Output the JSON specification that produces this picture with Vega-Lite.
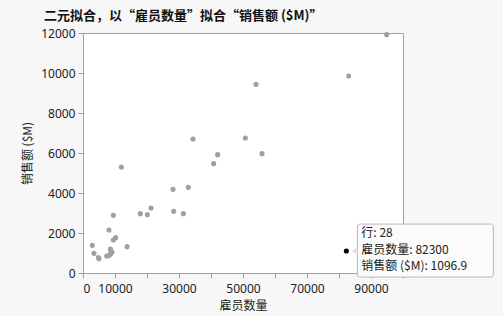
{
  "$schema": "https://vega.github.io/schema/vega-lite/v6.json",
  "width": 320,
  "height": 240,
  "autosize": "none",
  "padding": {"left": 83, "top": 33, "right": 100, "bottom": 43},
  "background": "#f7f7f7",
  "config": {
    "font": "Noto Sans CJK SC",
    "view": {"fill": "white", "stroke": "#a0a0a0", "strokeWidth": 1},
    "axis": {
      "grid": false,
      "domainColor": "#a0a0a0",
      "tickColor": "#a0a0a0",
      "tickSize": 5,
      "labelColor": "#222222",
      "labelFontSize": 12,
      "labelFont": "Noto Sans",
      "titleColor": "#222222",
      "titleFontSize": 12,
      "titleFontWeight": "normal"
    }
  },
  "title": {
    "text": "二元拟合，以“雇员数量”拟合“销售额 ($M)”",
    "anchor": "start",
    "frame": "group",
    "dx": -39,
    "offset": 4,
    "fontSize": 13,
    "fontWeight": "bold",
    "color": "#111111"
  },
  "data": {
    "values": [
      {"employees": 2917, "sales": 1383, "selected": false},
      {"employees": 3437, "sales": 983, "selected": false},
      {"employees": 4792, "sales": 767, "selected": false},
      {"employees": 5000, "sales": 717, "selected": false},
      {"employees": 8125, "sales": 2150, "selected": false},
      {"employees": 9479, "sales": 2883, "selected": false},
      {"employees": 9479, "sales": 1650, "selected": false},
      {"employees": 10208, "sales": 1767, "selected": false},
      {"employees": 8542, "sales": 1200, "selected": false},
      {"employees": 7396, "sales": 850, "selected": false},
      {"employees": 8021, "sales": 867, "selected": false},
      {"employees": 8542, "sales": 933, "selected": false},
      {"employees": 9062, "sales": 1033, "selected": false},
      {"employees": 8700, "sales": 1133, "selected": false},
      {"employees": 11979, "sales": 5300, "selected": false},
      {"employees": 13750, "sales": 1317, "selected": false},
      {"employees": 17917, "sales": 2967, "selected": false},
      {"employees": 20104, "sales": 2917, "selected": false},
      {"employees": 21250, "sales": 3250, "selected": false},
      {"employees": 28125, "sales": 4183, "selected": false},
      {"employees": 28333, "sales": 3083, "selected": false},
      {"employees": 31354, "sales": 2967, "selected": false},
      {"employees": 32917, "sales": 4283, "selected": false},
      {"employees": 34375, "sales": 6700, "selected": false},
      {"employees": 40833, "sales": 5467, "selected": false},
      {"employees": 42083, "sales": 5917, "selected": false},
      {"employees": 50729, "sales": 6750, "selected": false},
      {"employees": 82300, "sales": 1096.9, "selected": true},
      {"employees": 54062, "sales": 9433, "selected": false},
      {"employees": 55937, "sales": 5967, "selected": false},
      {"employees": 83021, "sales": 9850, "selected": false},
      {"employees": 94896, "sales": 11917, "selected": false}
    ]
  },
  "encoding": {
    "x": {
      "field": "employees",
      "type": "quantitative",
      "title": "雇员数量",
      "scale": {"domain": [0, 100000], "nice": false},
      "axis": {
        "values": [0, 10000, 20000, 30000, 40000, 50000, 60000, 70000, 80000, 90000, 100000],
        "format": "d",
        "labelExpr": "datum.value == 0 || datum.value % 20000 == 10000 ? datum.label : ''",
        "labelPadding": 5,
        "titlePadding": 6
      }
    },
    "y": {
      "field": "sales",
      "type": "quantitative",
      "title": "销售额 ($M)",
      "scale": {"domain": [0, 12000], "nice": false},
      "axis": {
        "values": [0, 2000, 4000, 6000, 8000, 10000, 12000],
        "format": "d",
        "labelPadding": 3,
        "titlePadding": 6
      }
    }
  },
  "layer": [
    {
      "mark": {"type": "point", "filled": true, "size": 26, "opacity": 1},
      "encoding": {
        "color": {
          "condition": {"test": "datum.selected", "value": "#000000"},
          "value": "#a0a0a0"
        }
      }
    },
    {
      "transform": [{"filter": "datum.selected"}],
      "mark": {
        "type": "rect",
        "clip": false,
        "xOffset": 11,
        "x2Offset": 147,
        "yOffset": -27,
        "y2Offset": 26,
        "fill": "#fbfbfb",
        "stroke": "#b8b8b8",
        "strokeWidth": 1,
        "cornerRadius": 3
      },
      "encoding": {
        "x2": {"field": "employees"},
        "y2": {"field": "sales"}
      }
    },
    {
      "transform": [{"filter": "datum.selected"}],
      "mark": {
        "type": "point",
        "shape": "triangle-left",
        "filled": true,
        "clip": false,
        "xOffset": 8,
        "size": 50,
        "color": "#e4e4e4",
        "opacity": 1
      }
    },
    {
      "transform": [{"filter": "datum.selected"}],
      "mark": {
        "type": "text",
        "clip": false,
        "text": ["行: 28", "雇员数量: 82300", "销售额 ($M): 1096.9"],
        "align": "left",
        "baseline": "middle",
        "dx": 15,
        "dy": -18,
        "lineHeight": 16.7,
        "fontSize": 12,
        "color": "#222222"
      }
    }
  ]
}
